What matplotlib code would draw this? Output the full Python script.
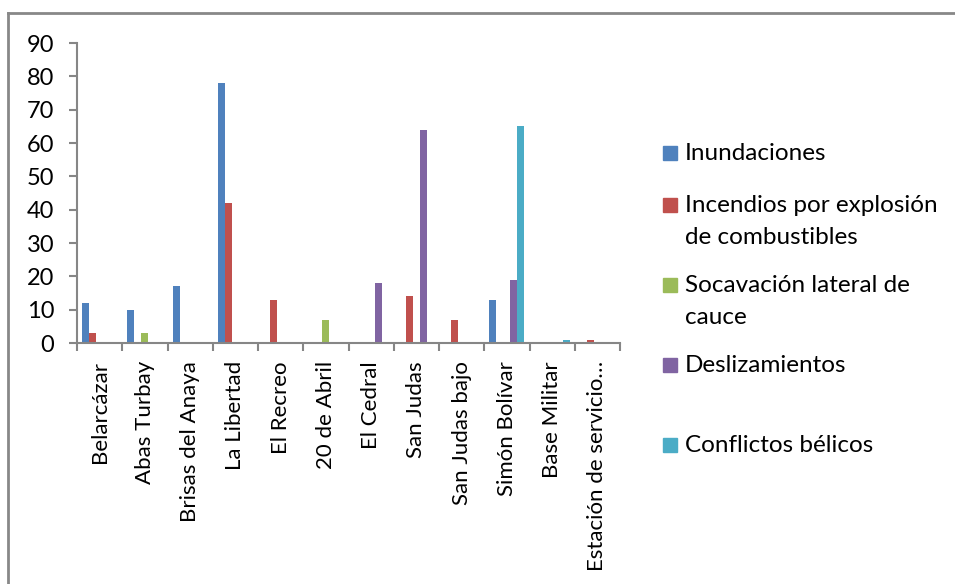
import numpy as np
import matplotlib
matplotlib.use("Agg")
import matplotlib.pyplot as plt
from matplotlib.lines import Line2D
from matplotlib.patches import Rectangle

plt.rcParams['font.family'] = ['Lato', 'DejaVu Sans']

barrios = ["Belarcázar", "Abas Turbay", "Brisas del Anaya", "La Libertad",
           "El Recreo", "20 de Abril", "El Cedral", "San Judas",
           "San Judas bajo", "Simón Bolívar", "Base Militar",
           "Estación de servicio…"]

inundaciones = [12, 10, 17, 78, 0, 0, 0, 0, 0, 13, 0, 0]
incendios = [3, 0, 0, 42, 13, 0, 0, 14, 7, 0, 0, 1]
socavacion = [0, 3, 0, 0, 0, 7, 0, 0, 0, 0, 0, 0]
deslizamientos = [0, 0, 0, 0, 0, 0, 18, 64, 0, 19, 0, 0]
conflictos = [0, 0, 0, 0, 0, 0, 0, 0, 0, 65, 1, 0]

series_names = ["Inundaciones", "Incendios por explosión\nde combustibles",
                "Socavación lateral de\ncauce", "Deslizamientos",
                "Conflictos bélicos"]
series_values = [inundaciones, incendios, socavacion, deslizamientos, conflictos]
colors = ["#4F81BD", "#C0504D", "#9BBB59", "#8064A2", "#4BACC6"]

W, H = 955, 584
fig = plt.figure(figsize=(W / 100, H / 100), dpi=100)
ax = fig.add_axes([77 / W, 1 - 343 / H, (620 - 77) / W, (343 - 43) / H])

x = np.arange(len(barrios))
bw = 1 / 6.5
for i, (vals, col) in enumerate(zip(series_values, colors)):
    ax.bar(x + (i - 2) * bw, vals, width=bw, color=col, linewidth=0)

spine_col = "#868686"
ax.set_xlim(-0.5, len(barrios) - 0.5)
ax.set_ylim(0, 90)
ax.set_yticks(np.arange(0, 91, 10))
ax.set_xticks(np.arange(-0.5, len(barrios), 1.0))
ax.set_xticklabels([])
ax.set_xticks(x, minor=True)
ax.set_xticklabels(barrios, minor=True, rotation=90, va="top", ha="center")
for s in ["top", "right"]:
    ax.spines[s].set_visible(False)
for s in ["left", "bottom"]:
    ax.spines[s].set_color(spine_col)
    ax.spines[s].set_linewidth(1.5)
ax.tick_params(axis="y", direction="out", length=5.5, width=1.5, color=spine_col,
               labelsize=17, pad=11, labelcolor="black")
ax.tick_params(axis="x", which="major", direction="out", length=5.5, width=1.5,
               color=spine_col)
ax.tick_params(axis="x", which="minor", length=0, labelsize=16, pad=13,
               labelcolor="black")

# legend entries: square beside first line, text block centred on its lines
square_y = [153, 205, 285, 365, 445]
text_y = [153, 221.5, 301.5, 365, 445]
for name, col, sy, ty in zip(series_names, colors, square_y, text_y):
    fig.patches.append(Rectangle((663 / W, 1 - (sy + 7) / H), 14 / W, 14 / H,
                                 transform=fig.transFigure, color=col))
    fig.text(685 / W, 1 - ty / H, name, fontsize=17.5, va="center",
             ha="left", linespacing=1.7)

# chart area frame
fig.add_artist(Line2D([8 / W, 8 / W], [0, 1 - 13 / H], transform=fig.transFigure,
                      color="#888888", linewidth=2))
fig.add_artist(Line2D([8 / W, 1], [1 - 13 / H, 1 - 13 / H], transform=fig.transFigure,
                      color="#888888", linewidth=2))

fig.savefig("out.png", dpi=100)
